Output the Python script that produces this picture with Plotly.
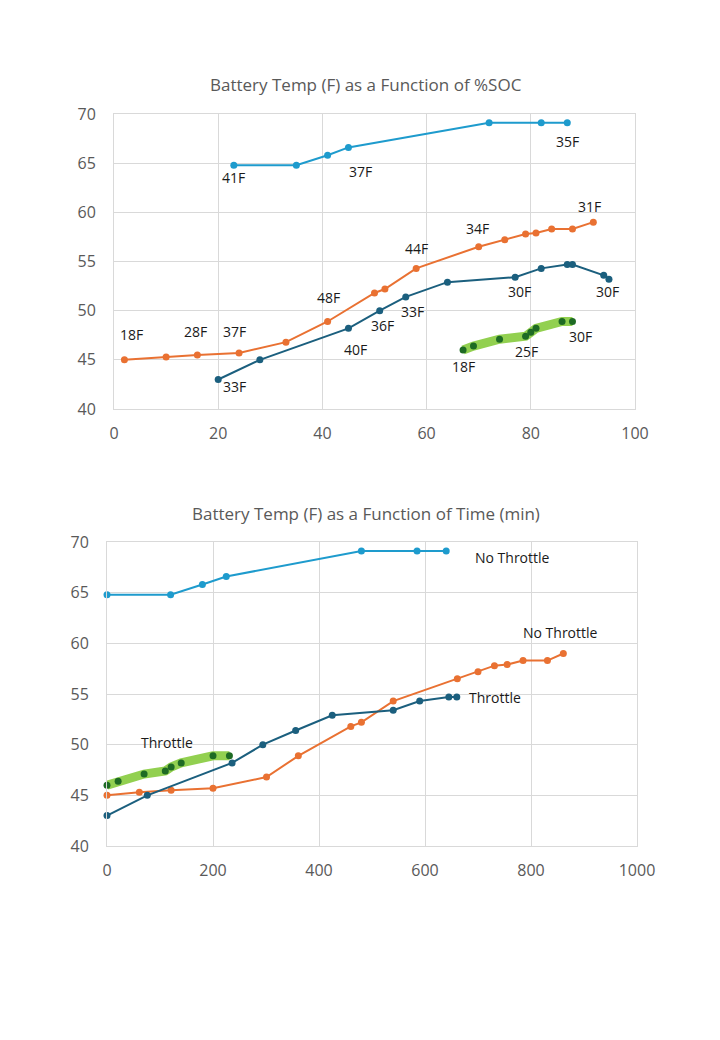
import plotly.graph_objects as go

# ---------------- Data: Battery Temp vs %SOC (top) ----------------
soc_cyan = [23, 35, 41, 45, 72, 82, 87]
temp_cyan = [64.8, 64.8, 65.8, 66.6, 69.1, 69.1, 69.1]

soc_orange = [2, 10, 16, 24, 33, 41, 50, 52, 58, 70, 75, 79, 81, 84, 88, 92]
temp_orange = [45.0, 45.3, 45.5, 45.7, 46.8, 48.9, 51.8, 52.2, 54.3, 56.5, 57.2, 57.8, 57.9, 58.3, 58.3, 59.0]

soc_dark = [20, 28, 45, 51, 56, 64, 77, 82, 87, 88, 94, 95]
temp_dark = [43.0, 45.0, 48.2, 50.0, 51.4, 52.9, 53.4, 54.3, 54.7, 54.7, 53.6, 53.2]

soc_green = [67, 69, 74, 79, 80, 81, 86, 88]
temp_green = [46.0, 46.4, 47.1, 47.4, 47.8, 48.2, 48.9, 48.9]

# ---------------- Data: Battery Temp vs Time (bottom) ----------------
time_cyan = [0, 120, 180, 225, 480, 585, 640]
time_orange = [0, 61, 121, 200, 301, 361, 460, 480, 540, 661, 700, 731, 755, 785, 831, 861]
time_dark = [0, 76, 236, 294, 356, 425, 540, 590, 645, 660]
temp_dark_time = temp_dark[:10]
time_green = [0, 21, 70, 110, 121, 140, 200, 231]

# ---------------- Labels ----------------
title_top = "Battery Temp (F) as a Function of %SOC"
title_bottom = "Battery Temp (F) as a Function of Time (min)"
x_ticks_top = [0, 20, 40, 60, 80, 100]
x_ticks_bottom = [0, 200, 400, 600, 800, 1000]
y_ticks = [40, 45, 50, 55, 60, 65, 70]

# ambient-temperature labels: (series, point index, text)
top_labels = [
    ("cyan", 0, "41F"), ("cyan", 3, "37F"), ("cyan", 6, "35F"),
    ("orange", 0, "18F"), ("orange", 2, "28F"), ("orange", 3, "37F"),
    ("orange", 5, "48F"), ("orange", 8, "44F"), ("orange", 9, "34F"),
    ("orange", 15, "31F"),
    ("dark", 0, "33F"), ("dark", 2, "40F"), ("dark", 3, "36F"),
    ("dark", 4, "33F"), ("dark", 6, "30F"), ("dark", 11, "30F"),
    ("green", 0, "18F"), ("green", 3, "25F"), ("green", 7, "30F"),
]
top_shifts = [
    (0, -12), (12, -24), (0, -19),
    (7, 25), (-2, 23), (-5, 21), (1, 24), (0, 20), (-1, 18), (-4, 16),
    (16, -7), (7, -21), (3, -15), (7, -15), (4, -14), (-1, -12),
    (0, -16), (1, -15), (8, -15),
]
bottom_labels = [
    ("cyan", 6, "No Throttle"), ("orange", 15, "No Throttle"),
    ("dark", 9, "Throttle"), ("green", 3, "Throttle"),
]
bottom_shifts = [(66, -6), (-3, 21), (38, 0), (2, 29)]

C_CYAN = "#1E9BCD"
C_ORANGE = "#E97132"
C_DARK = "#1B5F7E"
C_GREEN_LINE = "#92D050"
C_GREEN_MK = "#1E6B24"
GRID = "#D9D9D9"
TXT = "#595959"
FONT = "Open Sans"

top_series = {
    "cyan": (soc_cyan, temp_cyan),
    "orange": (soc_orange, temp_orange),
    "dark": (soc_dark, temp_dark),
    "green": (soc_green, temp_green),
}
bottom_series = {
    "cyan": (time_cyan, temp_cyan),
    "orange": (time_orange, temp_orange),
    "dark": (time_dark, temp_dark_time),
    "green": (time_green, temp_green),
}

fig = go.Figure()


def add_series(series, xa, ya):
    styles = {
        "cyan": dict(line=dict(color=C_CYAN, width=2), marker=dict(color=C_CYAN, size=7)),
        "orange": dict(line=dict(color=C_ORANGE, width=2), marker=dict(color=C_ORANGE, size=7)),
        "dark": dict(line=dict(color=C_DARK, width=2), marker=dict(color=C_DARK, size=7)),
        "green": dict(line=dict(color=C_GREEN_LINE, width=9), marker=dict(color=C_GREEN_MK, size=7)),
    }
    for key in ["cyan", "orange", "dark", "green"]:
        xs, ys = series[key]
        fig.add_trace(go.Scatter(x=xs, y=ys, mode="lines+markers", xaxis=xa, yaxis=ya,
                                 showlegend=False, hoverinfo="skip", cliponaxis=False,
                                 **styles[key]))


add_series(top_series, "x", "y")
add_series(bottom_series, "x2", "y2")

annotations = []
for (key, idx, text), (dx, dy) in zip(top_labels, top_shifts):
    xs, ys = top_series[key]
    annotations.append(dict(x=xs[idx], y=ys[idx], xref="x", yref="y", text=text,
                            showarrow=False, xshift=dx, yshift=dy,
                            font=dict(family=FONT, size=14, color="#1a1a1a")))
for (key, idx, text), (dx, dy) in zip(bottom_labels, bottom_shifts):
    xs, ys = bottom_series[key]
    annotations.append(dict(x=xs[idx], y=ys[idx], xref="x2", yref="y2", text=text,
                            showarrow=False, xshift=dx, yshift=dy,
                            font=dict(family=FONT, size=14, color="#1a1a1a")))

annotations.append(dict(x=0.508, y=0.919, xref="paper", yref="paper", text=title_top,
                        showarrow=False, xanchor="center", yanchor="middle",
                        font=dict(family=FONT, size=17, color=TXT)))
annotations.append(dict(x=0.508, y=0.5058, xref="paper", yref="paper", text=title_bottom,
                        showarrow=False, xanchor="center", yanchor="middle",
                        font=dict(family=FONT, size=17, color=TXT)))

axis_common = dict(showgrid=True, gridcolor=GRID, gridwidth=1, zeroline=False,
                   showline=True, linecolor=GRID, linewidth=1, mirror=True,
                   tickfont=dict(family=FONT, size=16, color=TXT), ticks="",
                   fixedrange=True, automargin=False)

fig.update_layout(
    width=720, height=1040,
    margin=dict(l=0, r=0, t=0, b=0, pad=0, autoexpand=False),
    paper_bgcolor="white", plot_bgcolor="white",
    annotations=annotations,
    xaxis=dict(domain=[114 / 720, 635 / 720], range=[0, 100], tickvals=x_ticks_top,
               anchor="y", ticklabelstandoff=10, **axis_common),
    yaxis=dict(domain=[1 - 409 / 1040, 1 - 114 / 1040], range=[40, 70], tickvals=y_ticks,
               anchor="x", ticklabelstandoff=14, **axis_common),
    xaxis2=dict(domain=[107 / 720, 637 / 720], range=[0, 1000], tickvals=x_ticks_bottom,
                anchor="y2", ticklabelstandoff=10, **axis_common),
    yaxis2=dict(domain=[1 - 846 / 1040, 1 - 542 / 1040], range=[40, 70], tickvals=y_ticks,
                anchor="x2", ticklabelstandoff=14, **axis_common),
)

fig.write_html("out.html")
